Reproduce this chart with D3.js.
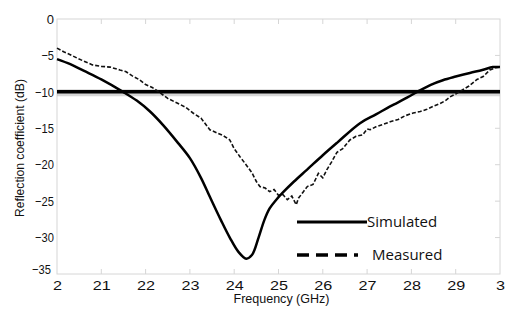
<!DOCTYPE html>
<html>
<head>
<meta charset="utf-8">
<script src="https://cdn.jsdelivr.net/npm/d3@7"></script>
<style>
  body { margin: 0; background: #fff; }
  svg { display: block; }
  .tick-label { font-family: "Liberation Sans", Arial, sans-serif; font-size: 13px; fill: #111; }
  .legend-label { font-family: "Open Sans", "Noto Sans", sans-serif; font-size: 15px; fill: #111; }
</style>
</head>
<body>
<div id="chart"></div>
<script>
var margin = { top: 19, right: 7, bottom: 35, left: 57 },
    width = 507 - margin.left - margin.right,
    height = 309 - margin.top - margin.bottom;

// x ticks shown without the decimal point, as in the figure
var xTicks = [2, 2.1, 2.2, 2.3, 2.4, 2.5, 2.6, 2.7, 2.8, 2.9, 3];
var xTickLabels = ["2", "21", "22", "23", "24", "25", "26", "27", "28", "29", "3"];
var yTicks = [0, -5, -10, -15, -20, -25, -30, -35];
var threshold = -10;

// simulated S11 (GHz, dB)
var simFreq = [2.0, 2.03, 2.06, 2.1, 2.149, 2.18, 2.21, 2.24, 2.273, 2.30, 2.325, 2.345, 2.37, 2.39, 2.41,
  2.427, 2.44, 2.455, 2.468, 2.48, 2.495, 2.51, 2.535, 2.564, 2.6, 2.632, 2.684, 2.72, 2.752, 2.79, 2.819,
  2.845, 2.871, 2.9, 2.932, 2.96, 2.984, 3.0];
var simDb = [-5.5, -6.2, -7.1, -8.3, -10.0, -11.2, -12.7, -14.6, -17.0, -19.1, -21.8, -24.4, -27.6, -30.0, -32.0,
  -32.9, -32.4, -30.0, -27.6, -26.0, -24.8, -23.8, -22.3, -20.7, -18.7, -17.0, -14.3, -13.1, -12.0, -10.8, -9.8,
  -9.0, -8.4, -7.9, -7.4, -7.0, -6.6, -6.6];

// measured S11 (GHz, dB)
var measFreq = [2.0, 2.015, 2.03, 2.05, 2.065, 2.08, 2.1, 2.12, 2.142, 2.155, 2.17, 2.185, 2.2, 2.215, 2.232,
  2.25, 2.27, 2.29, 2.307, 2.325, 2.345, 2.36, 2.375, 2.39, 2.40, 2.413, 2.428, 2.44, 2.45, 2.458, 2.47, 2.48,
  2.49, 2.5, 2.51, 2.52, 2.53, 2.54, 2.545, 2.555, 2.565, 2.578, 2.59, 2.6, 2.609, 2.62, 2.632, 2.645,
  2.661, 2.675, 2.69, 2.7, 2.707, 2.72, 2.735, 2.752, 2.77, 2.785, 2.804, 2.82, 2.835, 2.849, 2.865, 2.877,
  2.887, 2.9, 2.916, 2.93, 2.948, 2.962, 2.977, 2.99, 3.0];
var measDb = [-4.0, -4.5, -4.9, -5.5, -5.9, -6.3, -6.5, -6.6, -7.0, -7.2, -7.8, -8.3, -9.0, -9.4, -10.1,
  -10.9, -11.5, -12.1, -12.9, -13.6, -15.2, -15.6, -16.0, -16.6, -17.8, -18.9, -20.1, -21.1, -22.3, -23.0, -23.2, -23.7,
  -23.4, -24.2, -24.1, -24.8, -24.3, -25.5, -24.6, -23.8, -23.0, -22.7, -21.2, -21.8, -20.7, -19.6, -18.3, -17.8,
  -16.6, -16.1, -15.9, -15.1, -15.2, -14.8, -14.5, -14.1, -13.8, -13.3, -12.9, -12.7, -12.4, -12.0, -11.6, -11.2,
  -10.7, -10.3, -9.7, -9.2, -8.3, -7.9, -7.0, -6.7, -6.6];

var simulated = simFreq.map(function(f, i) { return { f: f, db: simDb[i] }; });
var measured = measFreq.map(function(f, i) { return { f: f, db: measDb[i] }; });

var svg = d3.select("#chart").append("svg")
    .attr("width", width + margin.left + margin.right)
    .attr("height", height + margin.top + margin.bottom)
  .append("g")
    .attr("transform", "translate(" + margin.left + "," + margin.top + ")");

var x = d3.scaleLinear().domain([2, 3]).range([0, width]);
var y = d3.scaleLinear().domain([0, -35]).range([0, height]);

// light frame with inward ticks
svg.append("rect")
  .attr("width", width).attr("height", height)
  .attr("fill", "none").attr("stroke", "#d6d6d6").attr("stroke-width", 1);

svg.append("g").selectAll("line").data(xTicks.slice(1, -1)).enter().append("line")
  .attr("x1", function(d) { return x(d); }).attr("x2", function(d) { return x(d); })
  .attr("y1", 0).attr("y2", 5).attr("stroke", "#d6d6d6");
svg.append("g").selectAll("line").data(xTicks.slice(1, -1)).enter().append("line")
  .attr("x1", function(d) { return x(d); }).attr("x2", function(d) { return x(d); })
  .attr("y1", height).attr("y2", height - 5).attr("stroke", "#d6d6d6");
svg.append("g").selectAll("line").data(yTicks.slice(1, -1)).enter().append("line")
  .attr("x1", width).attr("x2", width - 5)
  .attr("y1", function(d) { return y(d); }).attr("y2", function(d) { return y(d); })
  .attr("stroke", "#d6d6d6");

// axes (labels only)
var xAxis = svg.append("g")
  .attr("transform", "translate(0," + height + ")")
  .call(d3.axisBottom(x).tickValues(xTicks).tickSize(0).tickPadding(7)
    .tickFormat(function(d, i) { return xTickLabels[i]; }));
xAxis.select(".domain").remove();
xAxis.selectAll("text").attr("class", "tick-label").attr("font-family", null).attr("font-size", null)
  .attr("textLength", function(d, i) { return xTickLabels[i].length * 9; })
  .attr("lengthAdjust", "spacingAndGlyphs");

var yAxis = svg.append("g")
  .call(d3.axisLeft(y).tickValues(yTicks).tickSize(0).tickPadding(3).tickFormat(d3.format("d")));
yAxis.select(".domain").remove();
yAxis.selectAll("text").attr("class", "tick-label").attr("font-family", null).attr("font-size", null)
  .attr("textLength", function(d) { return d === 0 ? null : (String(d).length * 6.3); })
  .attr("lengthAdjust", "spacingAndGlyphs");
// the bottom label sits low and a little left, as in the figure
yAxis.selectAll("text").filter(function(d) { return d === -35; })
  .attr("dx", -3).attr("dy", "-0.05em");

// -10 dB line with soft shadow
svg.append("line")
  .attr("x1", 0).attr("x2", width)
  .attr("y1", y(threshold) + 1).attr("y2", y(threshold) + 1)
  .attr("stroke", "#bbb").attr("stroke-width", 7).attr("opacity", 0.6);
svg.append("line")
  .attr("x1", 0).attr("x2", width)
  .attr("y1", y(threshold)).attr("y2", y(threshold))
  .attr("stroke", "#000").attr("stroke-width", 3.5);

var line = d3.line()
  .x(function(d) { return x(d.f); })
  .y(function(d) { return y(d.db); });

svg.append("path").datum(measured)
  .attr("d", line.curve(d3.curveLinear))
  .attr("fill", "none").attr("stroke", "#111").attr("stroke-width", 1.6)
  .attr("stroke-dasharray", "4,2");

svg.append("path").datum(simulated)
  .attr("d", line.curve(d3.curveCatmullRom))
  .attr("fill", "none").attr("stroke", "#000").attr("stroke-width", 2.5);

// legend
var legend = svg.append("g").attr("transform", "translate(" + (297 - margin.left) + "," + (222 - margin.top) + ")");
legend.append("line").attr("x1", 0).attr("x2", 70).attr("y1", 0).attr("y2", 0)
  .attr("stroke", "#000").attr("stroke-width", 3);
legend.append("text").attr("class", "legend-label").attr("x", 70).attr("y", 5).text("Simulated");
legend.append("line").attr("x1", 0).attr("x2", 72).attr("y1", 33).attr("y2", 33)
  .attr("stroke", "#000").attr("stroke-width", 3.5).attr("stroke-dasharray", "12,7,12,7,12,7,4,20");
legend.append("text").attr("class", "legend-label").attr("x", 75).attr("y", 38).text("Measured");

// axis titles
svg.append("text")
  .attr("x", width / 2 + 3).attr("y", height + 29)
  .attr("text-anchor", "middle")
  .attr("font-family", "Liberation Sans, Arial, sans-serif").attr("font-size", 12)
  .attr("textLength", 96).attr("lengthAdjust", "spacingAndGlyphs")
  .attr("fill", "#111")
  .text("Frequency (GHz)");

svg.append("text")
  .attr("transform", "translate(" + (24 - margin.left) + "," + (148 - margin.top) + ") rotate(-90)")
  .attr("text-anchor", "middle")
  .attr("font-family", "Liberation Sans, Arial, sans-serif").attr("font-size", 12.5)
  .attr("textLength", 138).attr("lengthAdjust", "spacingAndGlyphs")
  .attr("fill", "#111")
  .text("Reflection coefficient (dB)");
</script>
</body>
</html>
